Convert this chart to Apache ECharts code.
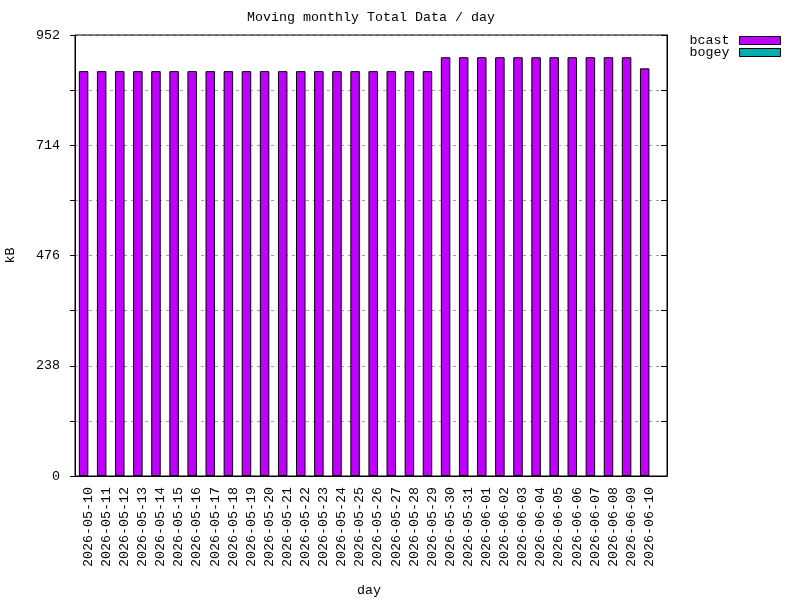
<!DOCTYPE html>
<html>
<head>
<meta charset="utf-8">
<script src="https://cdn.jsdelivr.net/npm/echarts@6/dist/echarts.min.js"></script>
<style>
  html, body { margin: 0; padding: 0; background: #fff; }
  #chart { width: 800px; height: 600px; }
</style>
</head>
<body>
<div id="chart"></div>
<script>
// data
let days = ['2026-05-10','2026-05-11','2026-05-12','2026-05-13','2026-05-14','2026-05-15','2026-05-16','2026-05-17',
  '2026-05-18','2026-05-19','2026-05-20','2026-05-21','2026-05-22','2026-05-23','2026-05-24','2026-05-25',
  '2026-05-26','2026-05-27','2026-05-28','2026-05-29','2026-05-30','2026-05-31','2026-06-01','2026-06-02',
  '2026-06-03','2026-06-04','2026-06-05','2026-06-06','2026-06-07','2026-06-08','2026-06-09','2026-06-10']
let bcast = [874,874,874,874,874,874,874,874,874,874,874,874,874,874,874,874,874,874,874,874,
  904,904,904,904,904,904,904,904,904,904,904,880]
let bogey = [0,0,0,0,0,0,0,0,0,0,0,0,0,0,0,0,0,0,0,0,0,0,0,0,0,0,0,0,0,0,0,0]
let yMax = 952
let yStep = 119

let font = 'Liberation Mono'
let fs = 13.33
let frameLine = { show: true, lineStyle: { color: '#000', width: 1 } }
let myChart = echarts.init(document.getElementById('chart'))
let option = {
  animation: false,
  textStyle: { fontFamily: font },
  title: {
    text: 'Moving monthly Total Data / day',
    left: 242, top: 6,
    textStyle: { fontFamily: font, fontSize: fs, fontWeight: 'normal', color: '#000' }
  },
  legend: {
    orient: 'vertical',
    right: 19, top: 34, padding: 0,
    align: 'right',
    itemWidth: 41, itemHeight: 8, itemGap: -1,
    icon: 'rect',
    itemStyle: { borderColor: '#000', borderWidth: 1 },
    textStyle: { fontFamily: font, fontSize: fs, color: '#000', padding: [0, 5, 0, 0] },
    data: ['bcast', 'bogey']
  },
  grid: [
    // frame
    { left: 75, right: 133, top: 35, bottom: 124, outerBoundsMode: 'none', containLabel: false,
      show: true, borderColor: '#000', borderWidth: 1, backgroundColor: 'transparent', z: 5 },
    // bars
    { left: 79.28, width: 579.2, top: 35, bottom: 124, outerBoundsMode: 'none', containLabel: false }
  ],
  xAxis: [
    { gridIndex: 0, type: 'value', position: 'bottom', min: 0, max: 1, axisLine: frameLine,
      axisTick: { show: false }, axisLabel: { show: false }, splitLine: { show: false } },
    {
      gridIndex: 1, type: 'category', data: days,
      name: 'day', nameLocation: 'middle', nameGap: 108,
      nameTextStyle: { fontFamily: font, fontSize: fs, color: '#000' },
      axisLine: { show: false },
      axisTick: { alignWithLabel: true, length: 8, lineStyle: { color: '#000' } },
      axisLabel: { rotate: 90, margin: 11, fontFamily: font, fontSize: fs, color: '#000', interval: 0 }
    }
  ],
  yAxis: [
    {
      gridIndex: 0, type: 'value', min: 0, max: yMax, interval: yStep,
      name: 'kB', nameLocation: 'middle', nameGap: 58,
      nameTextStyle: { fontFamily: font, fontSize: fs, color: '#000' },
      axisLine: frameLine,
      axisTick: { show: true, length: 5, lineStyle: { color: '#000' } },
      axisLabel: {
        margin: 15, fontFamily: font, fontSize: fs, color: '#000',
        formatter: v => (v % (yStep * 2) === 0 ? String(v) : '')
      },
      splitLine: { show: true, lineStyle: { color: '#a0a0a0', type: [3, 4], width: 1 } }
    },
    {
      gridIndex: 0, type: 'value', position: 'right', min: 0, max: yMax, interval: yStep,
      axisLine: frameLine,
      axisTick: { show: true, inside: true, length: 6, lineStyle: { color: '#000' } },
      axisLabel: { show: false },
      splitLine: { show: false }
    },
    { gridIndex: 1, type: 'value', min: 0, max: yMax, show: false }
  ],
  series: [
    {
      name: 'bcast', type: 'bar', xAxisIndex: 1, yAxisIndex: 2,
      barWidth: 9.5, barGap: '0%',
      itemStyle: { color: '#bf00ff', borderColor: '#000', borderWidth: 1 },
      data: bcast
    },
    {
      name: 'bogey', type: 'bar', xAxisIndex: 1, yAxisIndex: 2,
      barWidth: 9.5,
      itemStyle: { color: '#00aeae', borderWidth: 0 },
      data: bogey
    }
  ]
}
myChart.setOption(option)
</script>
</body>
</html>
